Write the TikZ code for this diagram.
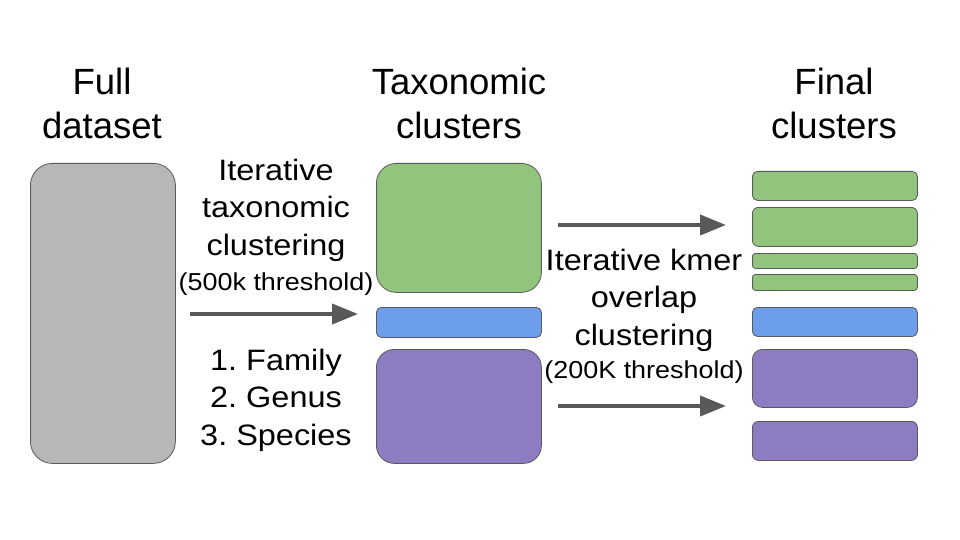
\documentclass[tikz,border=0pt]{standalone}
\usepackage{fontspec}
\setmainfont{Liberation Sans}
\newfontfamily\widesans[FakeStretch=1.1]{Liberation Sans}
\usetikzlibrary{arrows.meta}
\definecolor{boxgray}{HTML}{B7B7B7}
\definecolor{boxgreen}{HTML}{93C47D}
\definecolor{boxblue}{HTML}{6D9EEB}
\definecolor{boxpurple}{HTML}{8E7CC3}
\definecolor{linegray}{HTML}{595959}
\frenchspacing

\begin{document}
\begin{tikzpicture}[x=1pt, y=-1pt,
  cluster/.style={draw=linegray, line width=0.8pt, inner sep=0pt, anchor=north west},
  flow/.style={draw=linegray, line width=4pt, -{Triangle[length=26pt, width=20pt]}},
  title/.style={font=\fontsize{36.5}{44}\selectfont, align=center, anchor=base, inner sep=0pt},
  label/.style={font=\widesans\fontsize{29.5}{37.5}\selectfont, align=center, anchor=base, inner sep=0pt},
  note/.style={font=\widesans\fontsize{24.5}{28}\selectfont, anchor=base, inner sep=0pt}]
\useasboundingbox (0,0) rectangle (960,540);
% column titles
\node[title] (t-full) at (102,139) {Full\\dataset};
\node[title] (t-tax) at (459,139) {Taxonomic\\clusters};
\node[title] (t-fin) at (834,139) {Final\\clusters};
% full dataset and taxonomic clusters
\node[cluster, fill=boxgray, rounded corners=22pt, minimum width=145pt, minimum height=300pt] (full) at (30,163) {};
\node[cluster, fill=boxgreen, rounded corners=20pt, minimum width=165pt, minimum height=129pt] (tax-g) at (376,163) {};
\node[cluster, fill=boxblue, rounded corners=5pt, minimum width=165pt, minimum height=30pt] (tax-b) at (376,307) {};
\node[cluster, fill=boxpurple, rounded corners=18pt, minimum width=165pt, minimum height=114pt] (tax-p) at (376,349) {};
% final clusters
\foreach \n/\top/\h/\r/\col in {1/171/29/5/boxgreen, 2/207/39/6/boxgreen, 3/253/15/3/boxgreen,
  4/274/16/3/boxgreen, 5/307/29/5/boxblue, 6/349/58/10/boxpurple, 7/421/39/6/boxpurple} {
  \node[cluster, fill=\col, rounded corners=\r pt, minimum width=165pt, minimum height=\h pt] (fin-\n) at (752,\top) {};
}
% step labels
\node[label] (l-tax) at (276,255) {Iterative\\taxonomic\\clustering};
\node[note] (n-tax) at (276,290) {(500k threshold)};
\node[label] (l-rank) at (276,445) {1. Family\\2. Genus\\3. Species};
\node[label] (l-kmer) at (644,345) {Iterative kmer\\overlap\\clustering};
\node[note] (n-kmer) at (644,378) {(200K threshold)};
% arrows
\coordinate (a-from) at (190,314);
\coordinate (a-to) at (358,314);
\coordinate (b-from) at (558,225);
\coordinate (b-to) at (726,225);
\coordinate (c-from) at (558,406);
\coordinate (c-to) at (726,406);
\draw[flow] (a-from) -- (a-to);
\draw[flow] (b-from) -- (b-to);
\draw[flow] (c-from) -- (c-to);
\end{tikzpicture}
\end{document}
